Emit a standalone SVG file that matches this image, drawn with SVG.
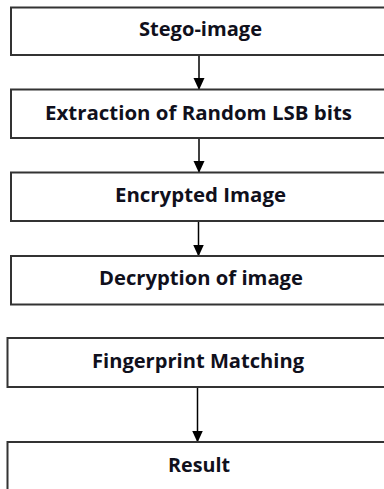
<svg xmlns="http://www.w3.org/2000/svg" width="384" height="489" viewBox="0 0 384 489">
  <style>
    .box { fill: #ffffff; stroke: #333333; stroke-width: 2; }
    .label { font-family: "Open Sans", "Liberation Sans", Arial, sans-serif; font-weight: bold; font-size: 20px; fill: #10101c; text-anchor: middle; }
    .wire { stroke: #000000; stroke-width: 1.5; fill: none; marker-end: url(#arrowhead); }
  </style>
  <defs>
    <marker id="arrowhead" markerUnits="userSpaceOnUse" markerWidth="12" markerHeight="12" refX="11" refY="5.5" orient="auto">
      <path d="M0,0 L12,5.5 L0,11 Z" fill="#000000"/>
    </marker>
  </defs>
  <rect width="384" height="489" fill="#ffffff"/>

  <g id="connectors">
    <line class="wire" x1="199" y1="55" x2="199" y2="89"/>
    <line class="wire" x1="199" y1="138" x2="199" y2="172"/>
    <line class="wire" x1="198.5" y1="221" x2="198.5" y2="255.5"/>
    <line class="wire" x1="197.5" y1="387" x2="197.5" y2="441.5"/>
  </g>

  <g id="stego-image">
    <rect class="box" x="11" y="7.5" width="390" height="47.5"/>
    <text class="label" x="200.5" y="36" textLength="123" lengthAdjust="spacingAndGlyphs">Stego-image</text>
  </g>

  <g id="extraction">
    <rect class="box" x="11" y="89.5" width="390" height="48.5"/>
    <text class="label" x="198.5" y="120" textLength="307" lengthAdjust="spacingAndGlyphs">Extraction of Random LSB bits</text>
  </g>

  <g id="encrypted-image">
    <rect class="box" x="11" y="172.5" width="390" height="48.5"/>
    <text class="label" x="200.5" y="202" textLength="171" lengthAdjust="spacingAndGlyphs">Encrypted Image</text>
  </g>

  <g id="decryption">
    <rect class="box" x="11" y="256" width="390" height="48.5"/>
    <text class="label" x="201" y="285" textLength="204" lengthAdjust="spacingAndGlyphs">Decryption of image</text>
  </g>

  <g id="fingerprint-matching">
    <rect class="box" x="7.5" y="338" width="394" height="49"/>
    <text class="label" x="198" y="368" textLength="212" lengthAdjust="spacingAndGlyphs">Fingerprint Matching</text>
  </g>

  <g id="result">
    <rect class="box" x="7.5" y="442" width="394" height="60"/>
    <text class="label" x="199" y="471.5" textLength="62" lengthAdjust="spacingAndGlyphs">Result</text>
  </g>
</svg>
